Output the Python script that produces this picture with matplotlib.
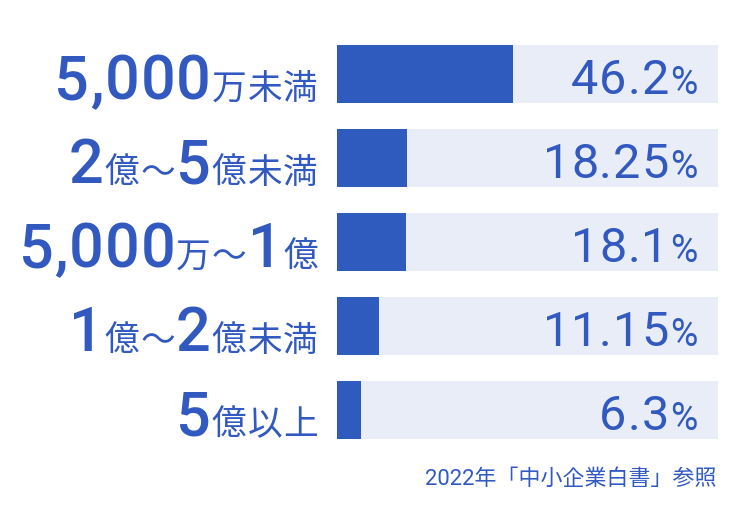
import matplotlib.pyplot as plt
from matplotlib.transforms import IdentityTransform

# data
categories = ['5,000万未満', '2億～5億未満', '5,000万～1億', '1億～2億未満', '5億以上']
values = [46.2, 18.25, 18.1, 11.15, 6.3]
value_labels = ['46.2', '18.25', '18.1', '11.15', '6.3']
note = '2022年「中小企業白書」参照'

blue = '#2f5bbf'
text_blue = '#3159c0'
back = '#e8edf8'
fam = ['Roboto', 'Noto Sans CJK JP', 'DejaVu Sans']

fig = plt.figure(figsize=(7.49, 5.28), dpi=100)
ax = fig.add_axes([337/749, 76/528, 381/749, 420/528])
y = list(range(len(categories)))
ax.barh(y, [100]*len(values), height=58/84, color=back)
ax.barh(y, values, height=58/84, color=blue)
ax.set_xlim(0, 100)
ax.set_ylim(len(categories) - 0.5, -0.5)
ax.axis('off')

fig.canvas.draw()
renderer = fig.canvas.get_renderer()


def put_pieces(x_right, base, pieces, gap=0):
    # pieces drawn right to left in pixel coordinates, char by char
    x = x_right
    for txt, size, weight in reversed(pieces):
        for ch in reversed(txt):
            t = fig.text(x, base, ch, transform=IdentityTransform(), fontsize=size,
                         fontweight=weight, color=text_blue, family=fam,
                         ha='right', va='baseline')
            w = t.get_window_extent(renderer).width
            x -= w + gap


def split_label(s):
    pieces = []
    for ch in s:
        big = ch.isdigit() or ch == ','
        if pieces and pieces[-1][1] == big:
            pieces[-1][0] += ch
        else:
            pieces.append([ch, big])
    return [(p, 44 if b else 25, 'medium' if b else 'normal') for p, b in pieces]


for i, c in enumerate(categories):
    centre = 528 - (74 + 84*i)
    put_pieces(318, centre - 25, split_label(c), gap=1)
    put_pieces(697, centre - 20, [(value_labels[i], 35, 'normal'), ('%', 27, 'normal')], gap=1)

fig.text(716/749, 43/528, note, fontsize=15.8, color=text_blue, family=fam,
         ha='right', va='baseline')

fig.savefig('out.png', dpi=100)
